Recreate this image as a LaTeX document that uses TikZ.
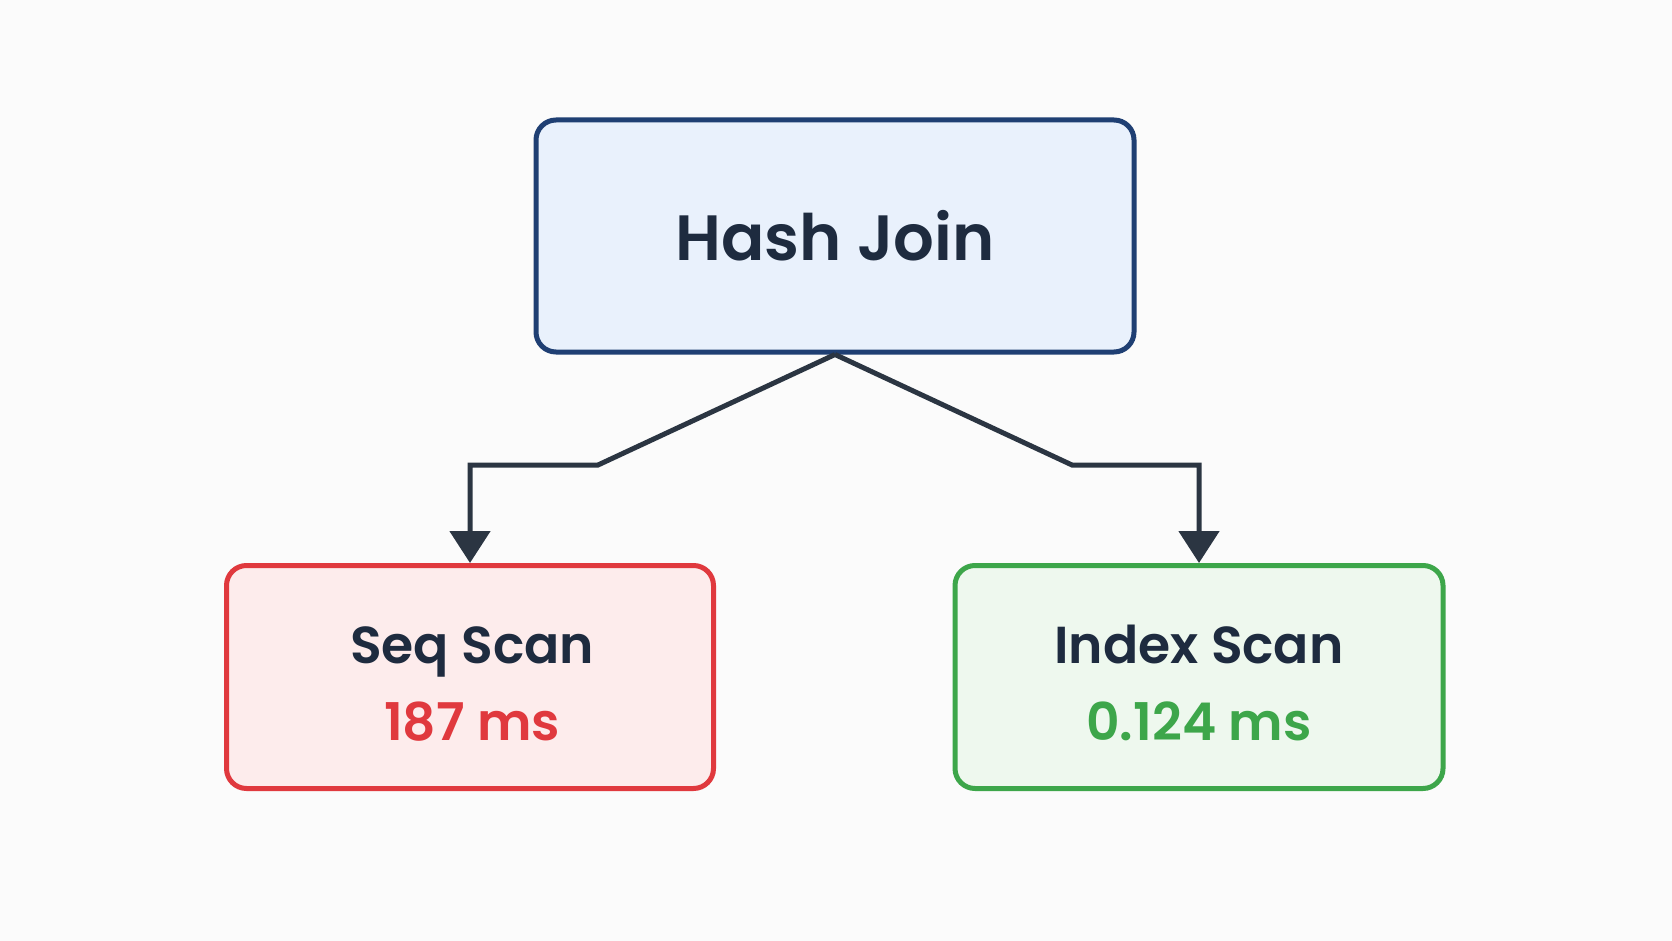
\documentclass[tikz,border=0pt]{standalone}
\usepackage{fontspec}
\setmainfont{Poppins}[BoldFont={Poppins SemiBold}]
\usetikzlibrary{arrows.meta}
\definecolor{bg}{HTML}{FBFBFB}
\definecolor{navy}{HTML}{1E2B3F}
\definecolor{blueb}{HTML}{1F3F73}
\definecolor{bluef}{HTML}{E9F1FC}
\definecolor{redb}{HTML}{E0393E}
\definecolor{redf}{HTML}{FDECEC}
\definecolor{greenb}{HTML}{3DA64A}
\definecolor{greenf}{HTML}{EEF8EE}
\definecolor{conn}{HTML}{2B3542}
\tikzset{
  box/.style={draw, line width=5pt, rounded corners=20pt, align=center, inner sep=0pt, text=navy},
  lbl/.style={anchor=base, inner sep=0pt, font=\fontsize{52}{60}\selectfont\bfseries},
  conn/.style={draw=conn, line width=5pt, -{Triangle[width=40pt,length=32pt]}},
}
\begin{document}
\begin{tikzpicture}[x=1pt,y=-1pt]
\fill[bg] (0,0) rectangle (1672,941);
\useasboundingbox (0,0) rectangle (1672,941);
\node[box, draw=blueb, fill=bluef, minimum width=598pt, minimum height=232pt,
  font=\fontsize{64}{70}\selectfont\bfseries] (hj) at (835,236) {Hash Join};
\node[box, draw=redb, fill=redf, minimum width=487pt, minimum height=223pt] (seq) at (470,677) {};
\node[box, draw=greenb, fill=greenf, minimum width=488pt, minimum height=223pt] (idx) at (1199,677) {};
\node[lbl, text=navy] (seqt) at (472,663) {Seq Scan};
\node[lbl, text=redb] (seqv) at (472,740) {187 ms};
\node[lbl, text=navy] (idxt) at (1199,663) {Index Scan};
\node[lbl, text=greenb] (idxv) at (1199,740) {0.124 ms};
\coordinate (lb) at (598,465);
\coordinate (rb) at (1072,465);
\draw[conn] (hj.south) -- (lb) -| (seq.north);
\draw[conn] (hj.south) -- (rb) -| (idx.north);
\end{tikzpicture}
\end{document}
